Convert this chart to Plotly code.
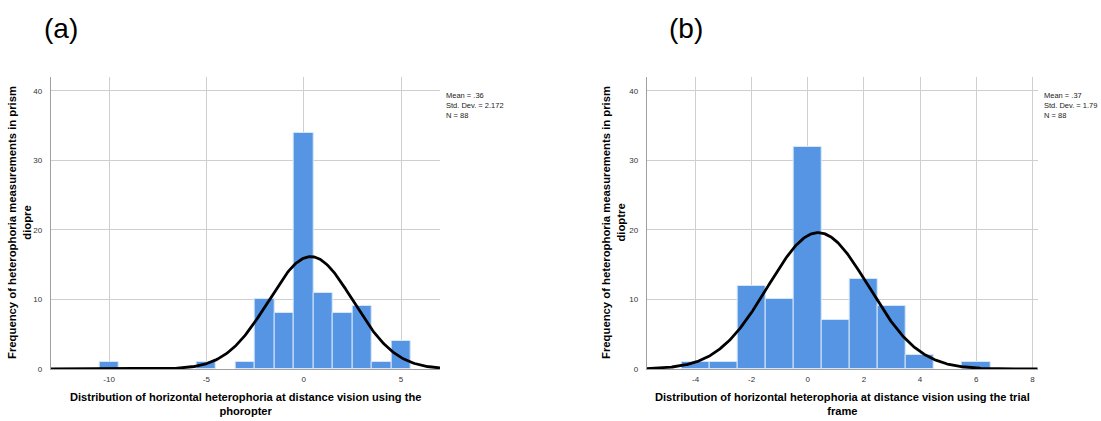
import numpy as np
import plotly.graph_objects as go

# ---- data ----
bins_a = [-10, -5, -3, -2, -1, 0, 1, 2, 3, 4, 5]
counts_a = [1, 1, 1, 10, 8, 34, 11, 8, 9, 1, 4]
mean_a, sd_a, n_a = 0.36, 2.172, 88

bins_b = [-4, -3, -2, -1, 0, 1, 2, 3, 4, 6]
counts_b = [1, 1, 12, 10, 32, 7, 13, 9, 2, 1]
mean_b, sd_b, n_b = 0.37, 1.79, 88

ticks_a = [-10, -5, 0, 5]
ticklabels_a = ["-10", "-5", "0", "5"]
ticks_b = [-4, -2, 0, 2, 4, 6, 8]
ticklabels_b = ["-4", "-2", "0", "2", "4", "6", "8"]
yticks = [0, 10, 20, 30, 40]

W, H = 1101, 421
BAR = "#5595E4"
BAR_LINE = "#d6e6fa"
GRID = "#cfcfcf"
FONT = "Liberation Sans, Arial, sans-serif"


def px(x):
    return x / W


def py(y):
    return 1 - y / H


def normal_curve(mean, sd, n, lo, hi):
    xs = np.linspace(lo, hi, 400)
    ys = n * 1.0 / (sd * np.sqrt(2 * np.pi)) * np.exp(-0.5 * ((xs - mean) / sd) ** 2)
    return xs, ys


fig = go.Figure()

xr_a = [-13.0, 7.0]
xr_b = [-5.74, 8.19]

fig.add_trace(go.Bar(x=bins_a, y=counts_a, width=1, marker=dict(color=BAR, line=dict(color=BAR_LINE, width=1)),
                     xaxis="x", yaxis="y", showlegend=False))
cx, cy = normal_curve(mean_a, sd_a, n_a, xr_a[0], xr_a[1])
fig.add_trace(go.Scatter(x=cx, y=cy, mode="lines", line=dict(color="black", width=2.8),
                         xaxis="x", yaxis="y", showlegend=False))

fig.add_trace(go.Bar(x=bins_b, y=counts_b, width=1, marker=dict(color=BAR, line=dict(color=BAR_LINE, width=1)),
                     xaxis="x2", yaxis="y2", showlegend=False))
cx, cy = normal_curve(mean_b, sd_b, n_b, xr_b[0], xr_b[1])
fig.add_trace(go.Scatter(x=cx, y=cy, mode="lines", line=dict(color="black", width=2.8),
                         xaxis="x2", yaxis="y2", showlegend=False))

ydom = [py(369), py(77)]
common_x = dict(showgrid=True, gridcolor=GRID, gridwidth=1, zeroline=False, showline=True,
                linecolor="#a0a0a0", linewidth=1, ticks="", tickfont=dict(family=FONT, size=8, color="#333"),
                ticklabelstandoff=2)
common_y = dict(showgrid=True, gridcolor=GRID, gridwidth=1, zeroline=False, showline=True,
                linecolor="#a0a0a0", linewidth=1, ticks="", tickfont=dict(family=FONT, size=8, color="#333"),
                range=[0, 42], tickvals=yticks, ticklabelstandoff=6)

fig.update_layout(
    width=W, height=H, margin=dict(l=0, r=0, t=0, b=0, autoexpand=False),
    paper_bgcolor="white", plot_bgcolor="white", bargap=0,
    xaxis=dict(domain=[px(50.7), px(440)], range=xr_a, tickvals=ticks_a, ticktext=ticklabels_a,
               anchor="y", **common_x),
    yaxis=dict(domain=ydom, anchor="x", **common_y),
    xaxis2=dict(domain=[px(646.7), px(1037.7)], range=xr_b, tickvals=ticks_b, ticktext=ticklabels_b,
                anchor="y2", **common_x),
    yaxis2=dict(domain=ydom, anchor="x2", **common_y),
)

ann = []
# panel labels
ann.append(dict(text="(a)", x=px(61), y=py(28), xref="paper", yref="paper", showarrow=False,
                font=dict(family=FONT, size=28, color="black"), xanchor="center", yanchor="middle"))
ann.append(dict(text="(b)", x=px(686), y=py(28), xref="paper", yref="paper", showarrow=False,
                font=dict(family=FONT, size=28, color="black"), xanchor="center", yanchor="middle"))
# stats
ann.append(dict(text="Mean = .36<br>Std. Dev. = 2.172<br>N = 88", x=px(444), y=py(89), xref="paper", yref="paper",
                showarrow=False, align="left", xanchor="left", yanchor="top",
                font=dict(family=FONT, size=7.5, color="#222")))
ann.append(dict(text="Mean = .37<br>Std. Dev. = 1.79<br>N = 88", x=px(1041.5), y=py(89), xref="paper", yref="paper",
                showarrow=False, align="left", xanchor="left", yanchor="top",
                font=dict(family=FONT, size=7.5, color="#222")))
# x titles
ann.append(dict(text="<b>Distribution of horizontal heterophoria at distance vision using the<br>phoropter</b>",
                x=px(245.5), y=py(404), xref="paper", yref="paper", showarrow=False, align="center",
                xanchor="center", yanchor="middle", font=dict(family=FONT, size=11.1, color="black")))
ann.append(dict(text="<b>Distribution of horizontal heterophoria at distance vision using the trial<br>frame</b>",
                x=px(842.5), y=py(404), xref="paper", yref="paper", showarrow=False, align="center",
                xanchor="center", yanchor="middle", font=dict(family=FONT, size=11.1, color="black")))
# y titles
ann.append(dict(text="<b>Frequency of heterophoria measurements in prism<br>diopre</b>",
                x=px(19), y=py(223), xref="paper", yref="paper", showarrow=False, align="center",
                textangle=-90, xanchor="center", yanchor="middle", font=dict(family=FONT, size=11.3, color="black")))
ann.append(dict(text="<b>Frequency of heterophoria measurements in prism<br>dioptre</b>",
                x=px(613), y=py(223), xref="paper", yref="paper", showarrow=False, align="center",
                textangle=-90, xanchor="center", yanchor="middle", font=dict(family=FONT, size=11.3, color="black")))
fig.update_layout(annotations=ann)

fig.write_html("out.html", config={"displayModeBar": False},
               post_script="document.body.style.margin='0';document.body.style.padding='0';")
